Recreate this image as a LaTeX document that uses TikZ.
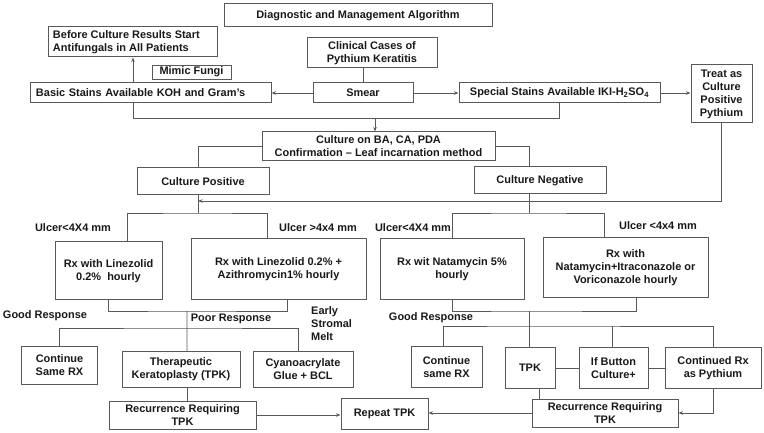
\documentclass[tikz,border=0pt]{standalone}
\usepackage{fontspec}
\setmainfont{Liberation Sans}
\usetikzlibrary{arrows.meta,calc}
\tikzset{
  box/.style = {draw=black!65, line width=1bp, fill=white,
    font=\bfseries\fontsize{11}{13}\selectfont, text=black!90,
    align=center, inner sep=2bp},
  sz/.style 2 args = {minimum width=#1bp, minimum height=#2bp},
  lbl/.style = {font=\bfseries\fontsize{11}{13}\selectfont, text=black!90, inner sep=0pt},
  link/.style = {draw=black!65, line width=0.9bp},
  arr/.style = {link, -{Stealth[length=4.5bp,width=3.5bp]}}
}

\begin{document}
\begin{tikzpicture}[x=1bp, y=-1bp]

  \fill[white] (0,0) rectangle (764,433);
  \useasboundingbox (0,0) rectangle (764,433);

  % top part
  \node[box, sz={268}{23}] (title) at (358,15.5) {Diagnostic and Management Algorithm};
  \node[box, sz={168}{30}, align=justify, inner xsep=4bp, text width=160bp] (before) at (133,42)
    {Before Culture Results Start\\Antifungals in All Patients};
  \node[box, sz={130}{30}] (clinical) at (372,53) {Clinical Cases of\\Pythium Keratitis};
  \node[box, sz={79}{14}, line width=0.8bp, inner sep=1bp] (mimic) at (191.5,72) {Mimic Fungi};
  \node[box, sz={240}{20}, align=left, inner xsep=5bp, text width=230bp] (basic) at (151,93)
    {Basic Stains Available KOH and Gram's};
  \node[box, sz={100}{20}] (smear) at (363,93) {Smear};
  \node[box, sz={201}{20}] (special) at (559.5,93) {Special Stains Available IKI-H\textsubscript{2}SO\textsubscript{4}};
  \node[box, sz={61}{58}] (treat) at (721.5,94) {Treat as\\Culture\\Positive\\Pythium};

  \node[box, sz={233}{29}] (culture) at (378.5,146.5) {Culture on BA, CA, PDA\\Confirmation – Leaf incarnation method};
  \node[box, sz={132}{27}] (cpos) at (203,181.5) {Culture Positive};
  \node[box, sz={132}{27}] (cneg) at (540,180.5) {Culture Negative};

  \draw[link] (clinical.south -| smear.north) -- (smear.north);
  \draw[arr] (smear.west) -- (smear.west -| basic.east);
  \draw[arr] (smear.east) -- (smear.east -| special.west);
  \draw[arr] (special.east) -- (special.east -| treat.west);
  \draw[arr] (before.south |- basic.north) -- (before.south);

  \coordinate (split) at (375,118);
  \draw[link] (before.south |- basic.south) |- (split);
  \draw[link] (special.south) |- (split);
  \draw[arr] (split) -- (split |- culture.north);

  % culture positive / negative
  \coordinate (pj) at (198,213);
  \coordinate (tj) at (198,201);
  \coordinate (nj) at (529,213);
  \draw[link] (culture.west) -| (cpos.north -| pj);
  \draw[link] (cpos.south -| pj) -- (pj);
  \draw[arr] (treat.south) |- (tj);
  \draw[link] (culture.east) -| (cneg.north -| nj);
  \draw[link] (cneg.south -| nj) -- (nj);

  \node[lbl] (ul1) at (73,228) {Ulcer<4X4 mm};
  \node[lbl] (ul2) at (318,228) {Ulcer >4x4 mm};
  \node[lbl] (ul3) at (413,228) {Ulcer<4X4 mm};
  \node[lbl] (ul4) at (658,226) {Ulcer <4x4 mm};

  \node[box, sz={107}{58}] (rxlin) at (108.5,271) {Rx with Linezolid\\0.2\%~ hourly};
  \node[box, sz={175}{61}] (rxazi) at (278.5,269.5) {Rx with Linezolid 0.2\% +\\Azithromycin1\% hourly};
  \node[box, sz={144}{61}] (rxnat) at (452,269.5) {Rx wit Natamycin 5\%\\hourly};
  \node[box, sz={165}{60}] (rxitra) at (625.5,268) {Rx with\\Natamycin+Itraconazole or\\Voriconazole hourly};

  \draw[link] ([xshift=19bp]rxlin.north) |- (pj) -| ([xshift=-11bp]rxazi.north);
  \draw[link] (rxnat.north) |- (nj) -| ([xshift=-21.5bp]rxitra.north);

  % lower left
  \node[lbl] (goodl) at (45,316) {Good Response};
  \node[lbl] (poor) at (231,319) {Poor Response};
  \node[lbl, align=left, anchor=west] (melt) at (311,324) {Early\\Stromal\\Melt};

  \node[box, sz={75}{37}] (contl) at (59.5,365.5) {Continue\\Same RX};
  \node[box, sz={118}{35}] (tpkl) at (181,369.5) {Therapeutic\\Keratoplasty (TPK)};
  \node[box, sz={100}{35}] (glue) at (303,369.5) {Cyanoacrylate\\Glue + BCL};
  \node[box, sz={147}{28}] (recl) at (182.5,415) {Recurrence Requiring\\TPK};
  \node[box, sz={87}{31}] (repeat) at (384.5,414) {Repeat TPK};

  \coordinate (lj) at (187,311);
  \coordinate (lb) at (187,328);
  \draw[link] (rxlin.south) |- (lj) -| ([xshift=8.5bp]rxazi.south);
  \draw[link] (lj) -- ([xshift=6bp]tpkl.north);
  \draw[link] (contl.north) |- (lb) -| ([xshift=-5bp]glue.north);
  \draw[link] ([xshift=6bp]tpkl.south) -- ([xshift=6bp]tpkl.south |- recl.north);
  \draw[arr] (recl.east) -- (recl.east -| repeat.west);

  % lower right
  \node[lbl] (goodr) at (431,318) {Good Response};

  \node[box, sz={71}{41}] (contr) at (446.5,367) {Continue\\same RX};
  \node[box, sz={50}{40}] (tpkr) at (530,368) {TPK};
  \node[box, sz={69}{41}] (button) at (613.5,368) {If Button\\Culture+};
  \node[box, sz={96}{41}] (contrx) at (713,368) {Continued Rx\\as Pythium};
  \node[box, sz={146}{28}] (recr) at (605,413) {Recurrence Requiring\\TPK};

  \coordinate (rj) at (529,311);
  \coordinate (rb) at (529,326);
  \draw[link] (rxnat.south) |- (rj) -| ([xshift=10.5bp]rxitra.south);
  \draw[link] (rj) -- (tpkr.north -| rj);
  \draw[link] ([xshift=-3.5bp]contr.north) |- (rb) -| (contrx.north);
  \draw[link] ([xshift=-1.5bp]button.north) -- ([xshift=-1.5bp]button.north |- rb);
  \draw[link] (tpkr.east) -- (button.west);
  \draw[link] (button.east) -- (contrx.west);
  \draw[link] ([xshift=9bp]tpkr.south) -- ([xshift=9bp]tpkr.south |- recr.north);
  \draw[arr] (contrx.south) |- (recr.east);
  \draw[arr] (recr.west) -- (recr.west -| repeat.east);

\end{tikzpicture}
\end{document}
